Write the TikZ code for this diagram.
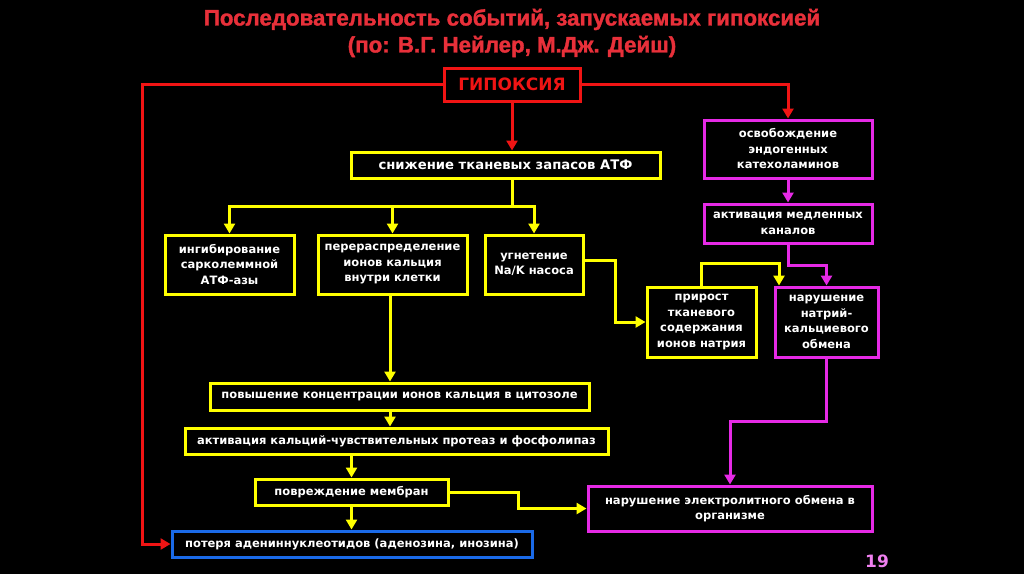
\documentclass[tikz,border=0pt]{standalone}
\usepackage{fontspec}
\setmainfont{DejaVu Sans}
\newfontfamily\titlefont{Liberation Sans Bold}[FakeBold=1.5]
\usetikzlibrary{arrows.meta}
\definecolor{hred}{HTML}{F01414}
\definecolor{tred}{HTML}{E8303A}
\definecolor{hyel}{HTML}{FFFF00}
\definecolor{hmag}{HTML}{E62AE6}
\definecolor{hblue}{HTML}{1A6AE8}
\definecolor{pink}{HTML}{F080F0}
\tikzset{
  box/.style={draw, line width=3pt, fill=black, text=white, font=\bfseries\fontsize{11.5}{15.5}\selectfont, align=center, inner sep=0pt, minimum width=#1},
  ybox/.style={box=#1, draw=hyel},
  mbox/.style={box=#1, draw=hmag},
  conn/.style={line width=3pt, -{Triangle[width=11pt,length=10pt]}},
  plain/.style={line width=3pt},
}
\begin{document}
\begin{tikzpicture}[x=1pt,y=-1pt]
\fill[black] (0,0) rectangle (1024,574);
\useasboundingbox (0,0) rectangle (1024,574);
% title
\node[text=tred, font=\titlefont\fontsize{22.3}{27}\selectfont, align=center] (title) at (512,33)
  {Последовательность событий, запускаемых гипоксией\\(по: В.Г. Нейлер, М.Дж. Дейш)};
% boxes
\node[box=136pt, draw=hred, text=hred, minimum height=33pt, font=\bfseries\fontsize{17}{20}\selectfont] (hyp) at (512,84.5) {ГИПОКСИЯ};
\node[ybox=309pt, minimum height=26pt, font=\bfseries\fontsize{13.2}{16}\selectfont] (atf) at (505.5,165) {снижение тканевых запасов АТФ};
\node[ybox=129pt, minimum height=59pt] (ing) at (229.5,264.5) {ингибирование\\сарколеммной\\АТФ-азы};
\node[ybox=149pt, minimum height=59pt] (perer) at (392.5,264.5) {перераспределение\\ионов кальция\\внутри клетки};
\node[ybox=98pt, minimum height=59pt] (ugn) at (534,264.5) {угнетение\\Na/K насоса};
\node[mbox=168pt, minimum height=58pt] (osv) at (788,149) {освобождение\\эндогенных\\катехоламинов};
\node[mbox=168pt, minimum height=39pt] (akt) at (788,223.5) {активация медленных\\каналов};
\node[ybox=109pt, minimum height=70pt] (prir) at (701.5,322) {прирост\\тканевого\\содержания\\ионов натрия};
\node[mbox=103pt, minimum height=70pt] (narN) at (826.5,322) {нарушение\\натрий-\\кальциевого\\обмена};
\node[ybox=379pt, minimum height=27pt] (pov) at (399.5,396.5) {повышение концентрации ионов кальция в цитозоле};
\node[ybox=423pt, minimum height=26pt] (aktK) at (396.5,441) {активация кальций-чувствительных протеаз и фосфолипаз};
\node[ybox=193pt, minimum height=26pt] (povr) at (351.5,492) {повреждение мембран};
\node[box=360pt, draw=hblue, minimum height=26pt] (pot) at (352,544) {потеря адениннуклеотидов (аденозина, инозина)};
\node[mbox=284pt, minimum height=45pt] (el) at (730,508.5) {нарушение электролитного обмена в\\организме};
\node[text=pink, font=\bfseries\fontsize{17}{20}\selectfont] (num) at (877,561) {19};
% coordinates
\coordinate (lc) at (142,84.5);
\coordinate (yb) at (512,206);
\coordinate (uc) at (615,0);
\coordinate (pa) at (779,263);
\coordinate (ma) at (0,265);
\coordinate (pe) at (518,0);
\coordinate (mc) at (0,421);
\coordinate (cx) at (390,0);
% red connectors
\draw[conn, hred] (hyp.west) -- (lc) |- (pot.west);
\draw[conn, hred] (hyp.east) -| (osv.north);
\draw[conn, hred] (hyp.south) -- (hyp.south |- atf.north);
% yellow connectors
\draw[plain, hyel] (hyp.south |- atf.south) -- (yb);
\draw[conn, hyel] (yb) -| (ing.north);
\draw[conn, hyel] (yb) -| (perer.north);
\draw[conn, hyel] (yb) -| (ugn.north);
\draw[conn, hyel] ([yshift=4.5pt]ugn.east) -- ([yshift=4.5pt]ugn.east -| uc) -- (uc |- prir.west) -- (prir.west);
\draw[conn, hyel] (prir.north) |- (pa) -- (pa |- narN.north);
\draw[conn, hyel] (cx |- perer.south) -- (cx |- pov.north);
\draw[conn, hyel] (cx |- pov.south) -- (cx |- aktK.north);
\draw[conn, hyel] (povr.north |- aktK.south) -- (povr.north);
\draw[conn, hyel] (povr.south) -- (povr.south |- pot.north);
\draw[conn, hyel] (povr.east) -- (povr.east -| pe) -- (pe |- el.west) -- (el.west);
% magenta connectors
\draw[conn, hmag] (osv.south) -- (akt.north);
\draw[conn, hmag] (akt.south) -- (akt.south |- ma) -| (narN.north);
\draw[conn, hmag] (narN.south) -- (narN.south |- mc) -| (el.north);
\end{tikzpicture}
\end{document}
